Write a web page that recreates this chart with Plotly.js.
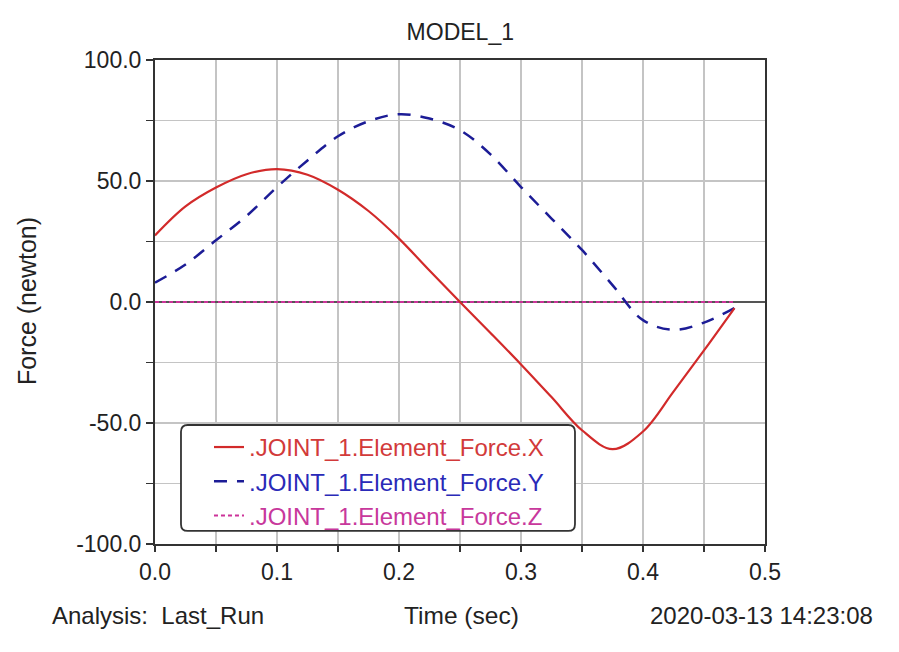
<!DOCTYPE html>
<html>
<head>
<meta charset="utf-8">
<script src="https://cdn.plot.ly/plotly-3.0.1.min.js"></script>
<style>html,body{margin:0;padding:0;background:#fff;}#chart{width:899px;height:652px;}</style>
</head>
<body>
<div id="chart"></div>
<script>
// Time samples (sec)
const timeX = [0, 0.025, 0.05, 0.075, 0.1, 0.125, 0.15, 0.175, 0.2, 0.225, 0.25, 0.275, 0.3, 0.325, 0.35, 0.375, 0.4, 0.425, 0.45, 0.475];
// Force X (newton)
const forceX = [27.5, 39.5, 47.3, 52.8, 54.9, 52.6, 46.4, 37.6, 26.2, 13, 0, -12.8, -25.8, -39.3, -53, -60.8, -53.5, -37, -20, -2.5];
// Force Y (newton)
const forceY = [8, 15.5, 25.5, 35.5, 47.5, 58.5, 68.5, 74.7, 77.6, 75.8, 71, 61, 47.5, 34.5, 21.5, 7, -7.5, -11.5, -8.5, -2.5];
// Force Z (newton)
const forceZ = [0, 0, 0, 0, 0, 0, 0, 0, 0, 0, 0, 0, 0, 0, 0, 0, 0, 0, 0, 0];
const seriesNames = [".JOINT_1.Element_Force.X", ".JOINT_1.Element_Force.Y", ".JOINT_1.Element_Force.Z"];
const xTickVals = [0, 0.05, 0.1, 0.15, 0.2, 0.25, 0.3, 0.35, 0.4, 0.45, 0.5];
const xTickText = ["0.0", "", "0.1", "", "0.2", "", "0.3", "", "0.4", "", "0.5"];
const yTickVals = [-100, -75, -50, -25, 0, 25, 50, 75, 100];
const yTickText = ["-100.0", "", "-50.0", "", "0.0", "", "50.0", "", "100.0"];

const colors = ["#d22a2a", "#1c1c96", "#cc3399"];
const textColors = ["#d23a3a", "#2a2ab8", "#c8389c"];
const FONT = "Liberation Sans, Arial, sans-serif";
const TXT = "#222";

const traces = [
  {x: timeX, y: forceZ, idx: 2, line: {color: colors[2], width: 2, dash: "4px,3px"}},
  {x: timeX, y: forceY, idx: 1, line: {color: colors[1], width: 2.5, dash: "13px,10px", shape: "spline"}},
  {x: timeX, y: forceX, idx: 0, line: {color: colors[0], width: 2.2, shape: "spline"}}
].map(t => {
  const idx = t.idx;
  delete t.idx;
  t.mode = "lines";
  t.name = '<span style="color:' + textColors[idx] + '">' + seriesNames[idx] + '</span>';
  t.legendrank = idx + 1;
  return t;
});

// rounded legend frame (paper coords)
const bx0 = 0.0426, bx1 = 0.6885, by0 = 0.027, by1 = 0.2459, rx = 0.011, ry = 0.014;
const framePath = `M${bx0 + rx},${by1} L${bx1 - rx},${by1} Q${bx1},${by1} ${bx1},${by1 - ry} L${bx1},${by0 + ry} Q${bx1},${by0} ${bx1 - rx},${by0} L${bx0 + rx},${by0} Q${bx0},${by0} ${bx0},${by0 + ry} L${bx0},${by1 - ry} Q${bx0},${by1} ${bx0 + rx},${by1} Z`;

const layout = {
  width: 899, height: 652,
  paper_bgcolor: "#ffffff", plot_bgcolor: "#ffffff",
  margin: {l: 155, r: 134, t: 60, b: 108},
  font: {family: FONT, size: 23, color: TXT},
  title: {text: "MODEL_1", x: 0.512, xanchor: "center", y: 0.951, yanchor: "middle", font: {family: FONT, size: 23, color: TXT}},
  showlegend: true,
  legend: {
    x: 0.0885, xanchor: "left", y: 0.246, yanchor: "top",
    bgcolor: "rgba(0,0,0,0)", borderwidth: 0,
    font: {family: FONT, size: 24},
    tracegroupgap: 0, itemwidth: 30, traceorder: "normal"
  },
  shapes: [
    {type: "path", xref: "paper", yref: "paper", path: framePath, fillcolor: "#ffffff", line: {color: "#333", width: 1.8}, layer: "above"}
  ],
  xaxis: {
    range: [0, 0.5], tickvals: xTickVals, ticktext: xTickText,
    showgrid: true, gridcolor: "#c4c4c4", gridwidth: 1.6,
    showline: true, linecolor: "#333", linewidth: 2, mirror: true,
    ticks: "outside", ticklen: 6, tickcolor: "#333", tickwidth: 1.5,
    zeroline: false, tickfont: {family: FONT, size: 23, color: TXT}
  },
  yaxis: {
    range: [-100, 100], tickvals: yTickVals, ticktext: yTickText,
    showgrid: true, gridcolor: "#c4c4c4", gridwidth: 1.6,
    showline: true, linecolor: "#333", linewidth: 2, mirror: true,
    ticks: "outside", ticklen: 7, tickcolor: "#333", tickwidth: 1.5,
    zeroline: true, zerolinecolor: "#555", zerolinewidth: 2,
    tickfont: {family: FONT, size: 23, color: TXT}
  },
  annotations: [
    {text: "Force (newton)", xref: "paper", yref: "paper", x: -0.2098, y: 0.502, xanchor: "center", yanchor: "middle", textangle: -90, showarrow: false, font: {family: FONT, size: 25, color: TXT}},
    {text: "Analysis:  Last_Run", xref: "paper", yref: "paper", x: -0.172, y: -0.148, xanchor: "left", yanchor: "middle", showarrow: false, font: {family: FONT, size: 24, color: TXT}},
    {text: "Time (sec)", xref: "paper", yref: "paper", x: 0.502, y: -0.148, xanchor: "center", yanchor: "middle", showarrow: false, font: {family: FONT, size: 24.5, color: TXT}},
    {text: "2020-03-13 14:23:08", xref: "paper", yref: "paper", x: 1.18, y: -0.148, xanchor: "right", yanchor: "middle", showarrow: false, font: {family: FONT, size: 24, color: TXT}}
  ]
};

Plotly.newPlot("chart", traces, layout, {displayModeBar: false, staticPlot: true});
</script>
</body>
</html>
